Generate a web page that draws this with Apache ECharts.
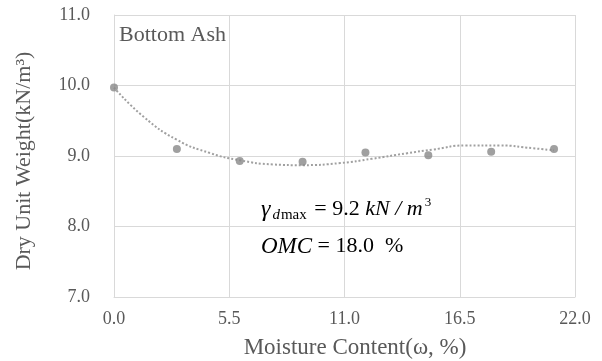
<!DOCTYPE html>
<html><head><meta charset="utf-8">
<script src="https://cdn.jsdelivr.net/npm/echarts@6/dist/echarts.min.js"></script>
<style>html,body{margin:0;padding:0;background:#fff}#c{width:602px;height:361px}</style>
</head><body><div id="c"></div>
<script>
const moisture = [0, 3.0, 6.0, 9.0, 12.0, 15.0, 18.0, 21.0];
const dryUnitWeight = [9.97, 9.10, 8.93, 8.92, 9.05, 9.01, 9.06, 9.10];
const trendX = [0, 1.4, 3.0, 4.6, 6.0, 7.6, 9.0, 10.8, 12.3, 14.0, 15.2, 16.8, 18.4, 20.0, 21.0];
const trendY = [9.97, 9.56, 9.23, 9.04, 8.94, 8.88, 8.87, 8.90, 8.96, 9.04, 9.09, 9.15, 9.15, 9.11, 9.08];
const xTicks = ['0.0', '5.5', '11.0', '16.5', '22.0'];
const yTicks = ['7.0', '8.0', '9.0', '10.0', '11.0'];

const font = '"Liberation Serif", "Times New Roman", serif';
const chart = echarts.init(document.getElementById('c'));
chart.setOption({
  animation: false,
  textStyle: { fontFamily: font },
  grid: { left: 114, right: 27, top: 15, bottom: 64, containLabel: false, outerBoundsMode: 'none' },
  title: [
    { text: 'Bottom Ash', left: 119, top: 24, padding: 0, textStyle: { fontFamily: font, fontSize: 22, fontWeight: 'normal', color: '#595959' } },
    { text: '{g|γ}{d|d}{s|max}{t| = 9.2 }{i|kN / m}{p|3}', left: 261, top: 196, padding: 0,
      textStyle: { fontFamily: font, fontWeight: 'normal', color: '#000',
        rich: {
          g: { fontFamily: font, fontStyle: 'italic', fontSize: 24, color: '#000' },
          d: { fontFamily: font, fontStyle: 'italic', fontSize: 15, color: '#000', verticalAlign: 'bottom', padding: [12, 1, 0, 2] },
          s: { fontFamily: font, fontSize: 15, color: '#000', verticalAlign: 'bottom', padding: [12, 2, 0, 0] },
          t: { fontFamily: font, fontSize: 22, color: '#000' },
          i: { fontFamily: font, fontStyle: 'italic', fontSize: 22, color: '#000' },
          p: { fontFamily: font, fontSize: 13, color: '#000', verticalAlign: 'top', padding: [0, 0, 12, 2] }
        } } },
    { text: '{i|OMC}{t| = 18.0  %}', left: 261, top: 235, padding: 0,
      textStyle: { fontFamily: font, fontWeight: 'normal', color: '#000',
        rich: {
          i: { fontFamily: font, fontStyle: 'italic', fontSize: 23, color: '#000' },
          t: { fontFamily: font, fontSize: 22, color: '#000' }
        } } }
  ],
  xAxis: {
    type: 'value', min: 0, max: 22, interval: 5.5,
    name: 'Moisture Content(ω, %)', nameLocation: 'middle', nameGap: 39,
    nameTextStyle: { fontFamily: font, fontSize: 23, color: '#595959', padding: [0, 0, 0, 21] },
    axisLine: { show: true, lineStyle: { color: '#d9d9d9' } },
    axisTick: { show: false },
    axisLabel: { fontFamily: font, fontSize: 18, color: '#595959', margin: 13,
      formatter: (v) => xTicks[Math.round(v / 5.5)] },
    splitLine: { show: true, lineStyle: { color: '#d9d9d9' } }
  },
  yAxis: {
    type: 'value', min: 7, max: 11, interval: 1,
    name: 'Dry Unit Weight(kN/m³)', nameLocation: 'middle', nameGap: 79,
    nameTextStyle: { fontFamily: font, fontSize: 22, color: '#595959', padding: [0, 10, 0, 0] },
    axisLine: { show: true, lineStyle: { color: '#d9d9d9' } },
    axisTick: { show: false },
    axisLabel: { fontFamily: font, fontSize: 18, color: '#595959', margin: 24,
      formatter: (v) => yTicks[Math.round(v - 7)] },
    splitLine: { show: true, lineStyle: { color: '#d9d9d9' } }
  },
  series: [
    { type: 'line', data: trendX.map((x, i) => [x, trendY[i]]), smooth: true, showSymbol: false,
      lineStyle: { color: '#a0a0a0', width: 2, type: [2, 2] }, z: 2 },
    { type: 'scatter', data: moisture.map((x, i) => [x, dryUnitWeight[i]]), symbolSize: 8,
      itemStyle: { color: '#888888' }, z: 3 }
  ]
});
</script></body></html>
